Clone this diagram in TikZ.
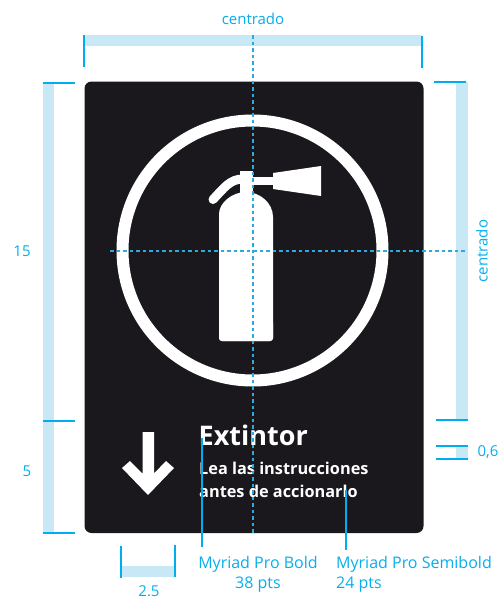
\documentclass[tikz,border=0pt]{standalone}
\usepackage{fontspec}
\setmainfont{Open Sans}
\definecolor{signblack}{HTML}{1A181D}
\definecolor{dimcyan}{HTML}{00AEEF}
\definecolor{dimpale}{HTML}{C9E8F5}
\definecolor{guide}{HTML}{29ABE2}
\begin{document}
\begin{tikzpicture}[x=1pt,y=-1pt,
  bar/.style={fill=dimpale,draw=none},
  tick/.style={draw=dimcyan,line width=2pt},
  guideline/.style={draw=guide,line width=1.6pt,dash pattern=on 3.5pt off 3pt},
  dimlabel/.style={text=dimcyan!85!guide,font=\fontsize{15}{17}\selectfont,inner sep=0pt},
  signtext/.style={text=white,inner sep=0pt,anchor=base west},
  shapewhite/.style={fill=white,draw=none}]
\useasboundingbox (0,0) rectangle (501,600);
% pale bars
\fill[bar] (84,35) rectangle (422,46);
\fill[bar] (43,83) rectangle (54,533);
\fill[bar] (456,82) rectangle (468,420);
\fill[bar] (456,446) rectangle (468,459);
\fill[bar] (121,566) rectangle (175,577);
% sign
\fill[signblack,rounded corners=7pt] (84.5,81.5) rectangle (423.5,533);
\draw[white,line width=12pt] (252.5,250.5) circle[radius=130];
% extinguisher
\draw[white,line width=9pt,line cap=round] (213,199.5) .. controls (224,188) and (230,179) .. (243,179);
\fill[shapewhite] (239.5,170.5) rectangle (253,197);
\fill[shapewhite] (253,176.5) rectangle (274,185);
\fill[shapewhite] (273,173) -- (321,166) -- (321,196) -- (273,189) -- cycle;
\fill[shapewhite] (219,341) [rounded corners=3pt] -- (219,217) [sharp corners] .. controls (219,203) and (232,192) .. (246,192) .. controls (260,192) and (273,203) .. (273,217) [rounded corners=3pt] -- (273,341) -- cycle;
\fill[shapewhite,rounded corners=3pt] (219,320) rectangle (273,341);
% arrow
\fill[shapewhite] (142.5,432) -- (154,432) -- (154,473.5) -- (166,461) -- (174,468) -- (148,495) -- (122,468) -- (130,461) -- (142.5,473.5) -- cycle;
% sign text
\node[signtext,font=\bfseries\fontsize{27}{30}\selectfont] (title) at (198.5,445) {Extintor};
\node[signtext,font=\fontsize{16.3}{20}\selectfont\bfseries] (line1) at (199,474) {Lea las instrucciones};
\node[signtext,font=\fontsize{16.3}{20}\selectfont\bfseries] (line2) at (199,497) {antes de accionarlo};
% ticks
\draw[tick] (84,35) -- (84,67);
\draw[tick] (422,36) -- (422,68);
\draw[tick] (43,83) -- (75,83);
\draw[tick] (43,420.5) -- (75,420.5);
\draw[tick] (43,533) -- (75,533);
\draw[tick] (434,82) -- (466,82);
\draw[tick] (436,420) -- (468,420);
\draw[tick] (436,446) -- (468,446);
\draw[tick] (436,459) -- (468,459);
\draw[tick] (121,546) -- (121,577.5);
\draw[tick] (175,545) -- (175,577);
% guides
\draw[guideline] (253,35) -- (253,533);
\draw[guideline] (110,251) -- (465,251);
% labels
\node[dimlabel] (top) at (253,19) {centrado};
\node[dimlabel,rotate=90] (right) at (482,251) {centrado};
\node[dimlabel] (fifteen) at (22,251) {15};
\node[dimlabel] (five) at (27,471) {5};
\node[dimlabel] (zerosix) at (488,452) {0,6};
\node[dimlabel] (twofive) at (149,591) {2.5};
\node[dimlabel,align=center,font=\fontsize{16}{20}\selectfont,anchor=base] (boldnote) at (258,588) {Myriad Pro Bold\\38 pts};
\node[dimlabel,align=left,font=\fontsize{16}{20}\selectfont,anchor=base west] (semibold) at (336,588) {Myriad Pro Semibold\\24 pts};
% leaders
\coordinate (boldend) at (202,438);
\coordinate (semiend) at (346,490);
\coordinate (boldfoot) at (202,547);
\coordinate (semifoot) at (346,550);
\draw[tick] (boldend) -- (boldfoot);
\draw[tick] (semiend) -- (semifoot);
\end{tikzpicture}
\end{document}
